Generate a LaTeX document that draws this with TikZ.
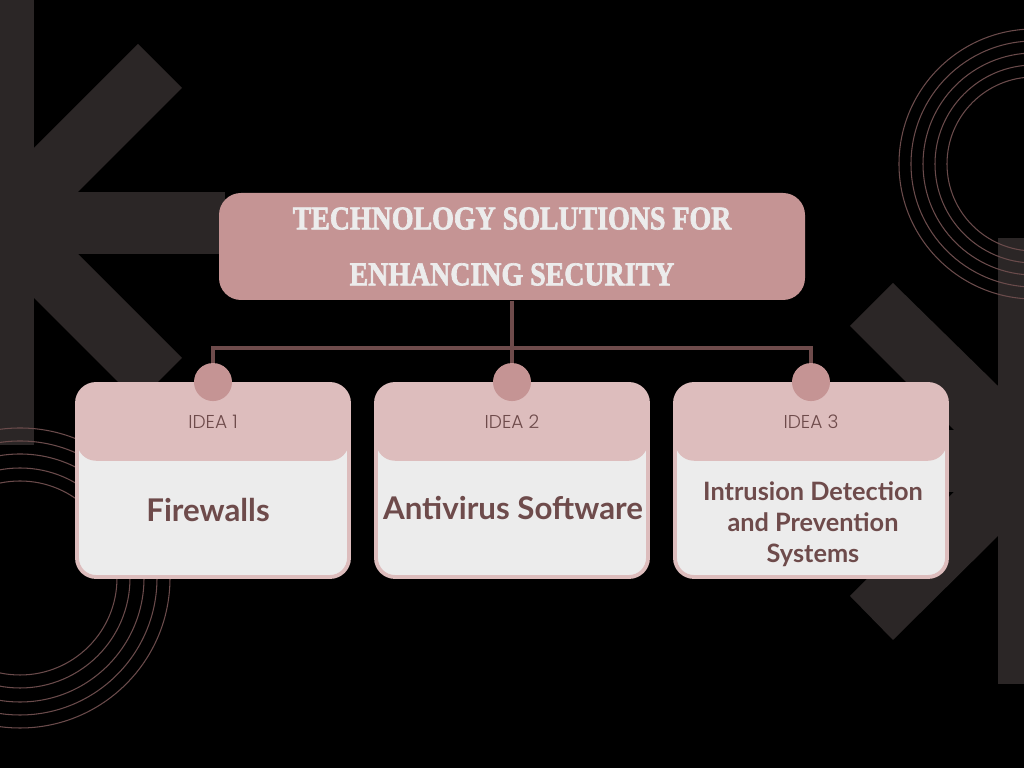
\documentclass[tikz,border=0pt]{standalone}
\usepackage{fontspec}
\newfontfamily\titlefont{Liberation Serif}[UprightFont=* Bold, FakeStretch=0.84, FakeBold=2]
\newfontfamily\ideafont{Poppins}[UprightFont=* Light]
\newfontfamily\bodyfont{Lato}
\definecolor{kdark}{HTML}{2B2626}
\definecolor{titlepink}{HTML}{C59494}
\definecolor{headpink}{HTML}{DDBDBD}
\definecolor{bodygray}{HTML}{ECECEC}
\definecolor{txtbrown}{HTML}{6E4B4B}
\definecolor{arcbrown}{HTML}{6A4B4B}
\usetikzlibrary{positioning,calc}

\begin{document}
\begin{tikzpicture}[
  card/.style={draw=headpink, line width=1.1pt, fill=bodygray, rounded corners=0.19cm, minimum width=2.72cm, minimum height=1.93cm},
  cardhead/.style={fill=headpink, rounded corners=0.19cm, minimum width=2.72cm, minimum height=0.78cm, font=\ideafont\fontsize{5.3}{6}\selectfont, text=txtbrown},
  idea/.style={font=\bodyfont\bfseries\fontsize{8.9}{11}\selectfont, text=txtbrown, align=center},
  dot/.style={circle, fill=titlepink, minimum size=0.38cm, inner sep=0pt},
  link/.style={draw=txtbrown, line width=1pt},
  ring/.style={arcbrown, line width=0.3pt}
]
  \useasboundingbox (0,0) rectangle (10.24,7.68);
  \fill[black] (0,0) rectangle (10.24,7.68);

  %--- Background shapes ---
  % left K
  \fill[kdark] (0,3.23) rectangle (0.34,7.68);
  \fill[kdark] (0.34,6.20) -- (1.38,7.24) -- (1.82,6.80) -- (0.78,5.76) -- (0.34,5.76) -- cycle;
  \fill[kdark] (0.34,5.14) rectangle (2.25,5.76);
  \fill[kdark] (0.34,5.14) -- (0.78,5.14) -- (1.82,4.10) -- (1.38,3.66) -- (0.34,4.70) -- cycle;

  % right K
  \fill[kdark] (9.98,0.84) rectangle (10.24,5.30);
  \fill[kdark] (9.98,3.82) -- (8.93,4.85) -- (8.50,4.42) -- (9.54,3.38) -- (9.98,3.38) -- cycle;
  \fill[kdark] (7.90,2.76) rectangle (9.98,3.38);
  \fill[kdark] (9.98,2.76) -- (9.54,2.76) -- (8.50,1.72) -- (8.93,1.28) -- (9.98,2.32) -- cycle;

  % rings
  \foreach \r in {0.87,0.99,1.11,1.23,1.35}
    \draw[ring] (10.34,6.04) circle (\r);
  \foreach \r in {0.97,1.10,1.24,1.37,1.50}
    \draw[ring] (0.20,1.90) circle (\r);

  %--- Title ---
  \node[fill=titlepink, rounded corners=0.22cm, minimum width=5.86cm, minimum height=1.07cm, text=bodygray, align=center, font=\titlefont\fontsize{9.45}{15.9}\selectfont] (title) at (5.12,5.215) {TECHNOLOGY SOLUTIONS FOR\\ENHANCING SECURITY};

  %--- Cards ---
  \node[card] (card1) at (2.13,2.875) {};
  \node[card] (card2) at (5.12,2.875) {};
  \node[card] (card3) at (8.11,2.875) {};

  \node[cardhead, anchor=north] (head1) at (card1.north) {IDEA 1};
  \node[cardhead, anchor=north] (head2) at (card2.north) {IDEA 2};
  \node[cardhead, anchor=north] (head3) at (card3.north) {IDEA 3};

  \node[idea] (idea1) at (2.08,2.58) {Firewalls};
  \node[idea] (idea2) at (5.13,2.60) {Antivirus Software};
  \node[idea, font=\bodyfont\bfseries\fontsize{7.2}{8.8}\selectfont] (idea3) at (8.13,2.44) {Intrusion Detection\\and Prevention\\Systems};

  %--- Links ---
  \coordinate (bus) at (5.12,4.20);
  \draw[link] (title.south) -- (bus);
  \draw[link] (bus) -| (head1.north);
  \draw[link] (bus) -- (head2.north);
  \draw[link] (bus) -| (head3.north);

  \node[dot] (dot1) at (head1.north) {};
  \node[dot] (dot2) at (head2.north) {};
  \node[dot] (dot3) at (head3.north) {};
\end{tikzpicture}
\end{document}
